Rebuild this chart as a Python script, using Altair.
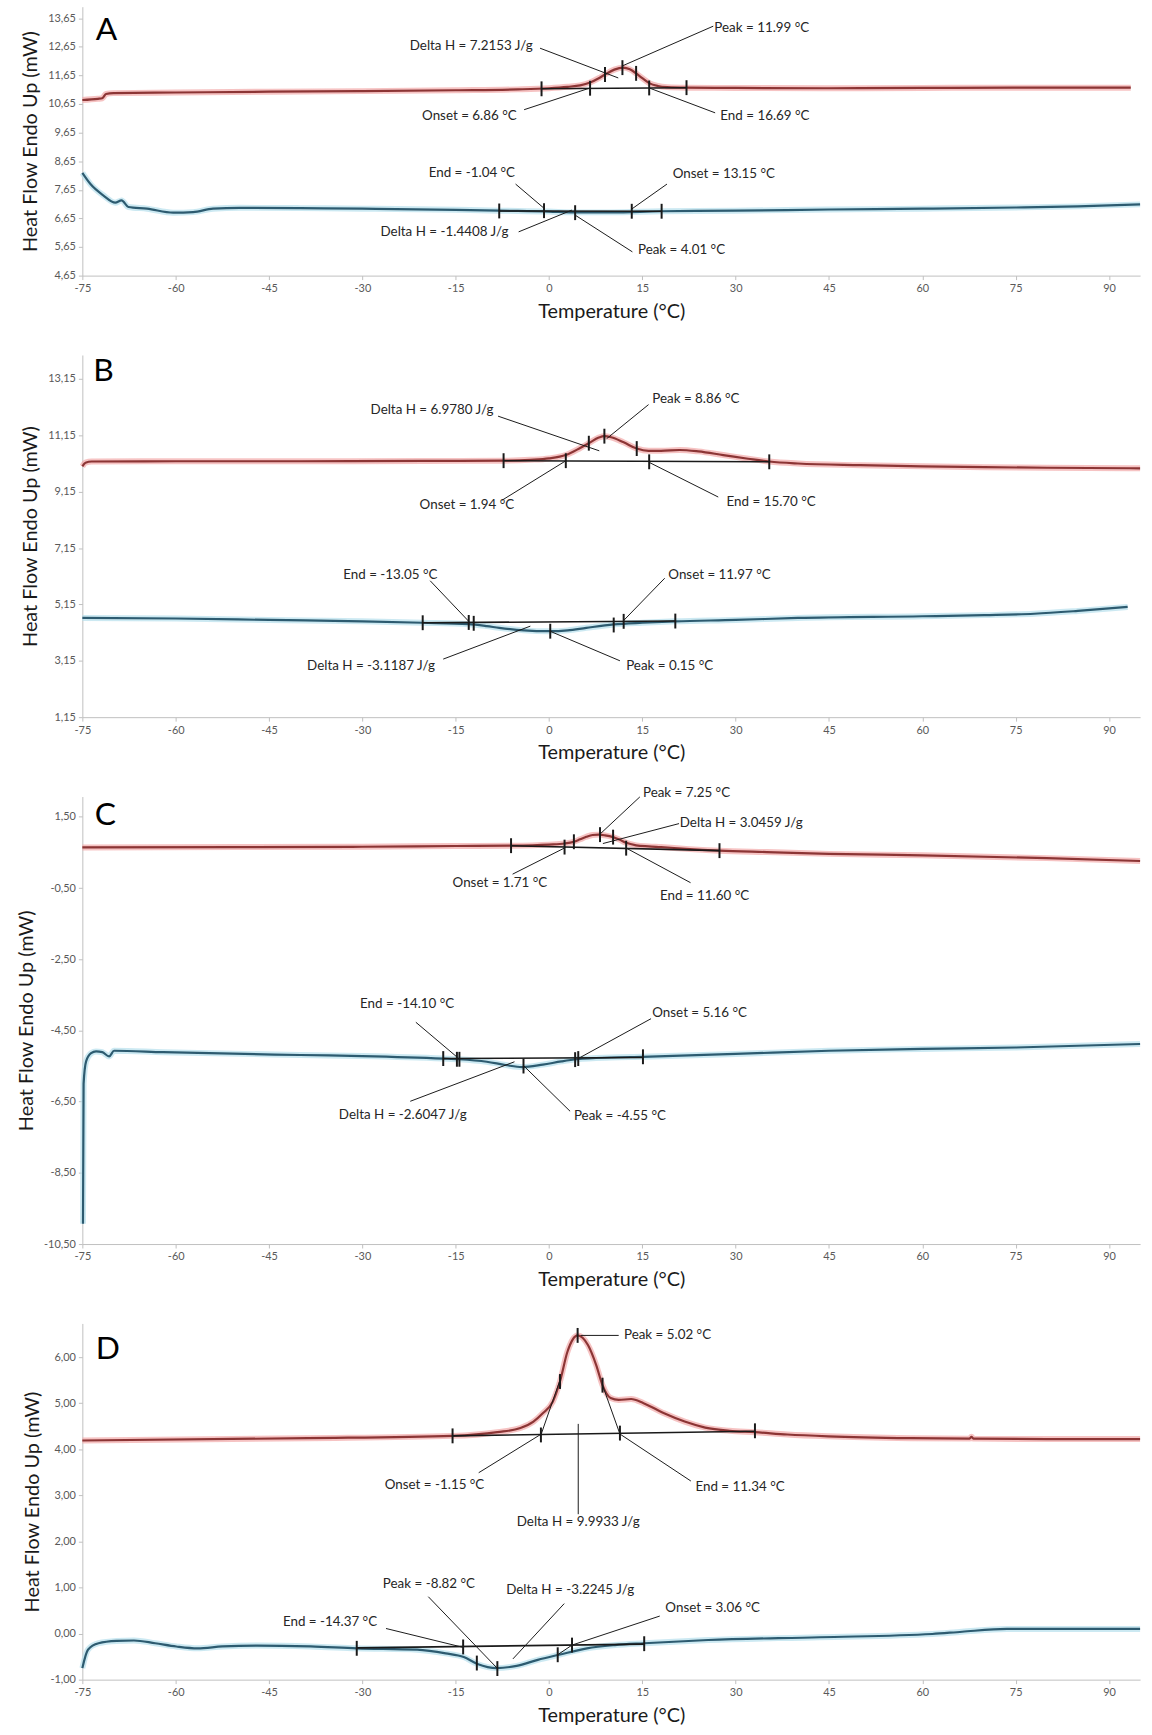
import altair as alt
import pandas as pd

FONT = "Lato"
RED_CORE = "#8c3535"
RED_GLOW = "#f2aaaa"
BLUE_CORE = "#2d5b70"
BLUE_GLOW = "#b7e0ec"
INK = "#1a1a1a"

X_DOMAIN = [-75, 95]
X_TICKS = [-75, -60, -45, -30, -15, 0, 15, 30, 45, 60, 75, 90]
X_TITLE = "Temperature (°C)"
Y_TITLE = "Heat Flow Endo Up (mW)"
Y_LABEL_EXPR = "replace(replace(format(datum.value, '.2f'), '.', ','), '\u2212', '-')"

# ---------------- Panel A ----------------
A_Y_DOMAIN = [4.65, 14.05]
A_Y_TICKS = [4.65, 5.65, 6.65, 7.65, 8.65, 9.65, 10.65, 11.65, 12.65, 13.65]
A_RED_T = [-75, -72.5, -71.8, -71.2, -70, -60, -45, -30, -15, -5, 0, 3, 5, 6.6, 8, 9,
           10.5, 11.9, 13, 14, 15, 16.1, 17.5, 19, 22, 30, 45, 60, 75, 93.5]
A_RED_HF = [10.79, 10.83, 10.85, 11.0, 11.03, 11.05, 11.08, 11.1, 11.13, 11.16, 11.2, 11.25, 11.3,
            11.4, 11.55, 11.68, 11.85, 11.92, 11.86, 11.72, 11.55, 11.38, 11.28, 11.24, 11.22,
            11.21, 11.2, 11.21, 11.22, 11.22]
A_BLUE_T = [-75, -73.7, -71.6, -69.7, -68.7, -67.6, -64.6, -60.4, -57.2, -54, -49.7, -40, -30,
            -15, -8, 0, 4, 10, 18, 30, 45, 60, 75, 85, 95]
A_BLUE_HF = [8.24, 7.85, 7.45, 7.2, 7.28, 7.05, 6.99, 6.85, 6.87, 6.99, 7.02, 7.01, 6.99, 6.95,
             6.92, 6.89, 6.86, 6.86, 6.9, 6.92, 6.96, 6.99, 7.03, 7.07, 7.14]
A_TICKS = [(-1.2, 11.18), (6.6, 11.2), (9.0, 11.68), (11.8, 11.92), (14.0, 11.72), (16.1, 11.21),
           (22.1, 11.22), (-8.0, 6.91), (-0.8, 6.92), (4.2, 6.85), (13.3, 6.9), (18.1, 6.9)]
A_BASES = [(-1.2, 11.18, 22.1, 11.22), (-8.0, 6.91, 18.1, 6.9)]
A_LEADS = [(-1.44, 12.60, 11.13, 11.56), (26.4, 13.37, 11.78, 11.98), (-4.0, 10.45, 6.6, 11.21),
           (26.7, 10.34, 16.1, 11.21), (-5.37, 7.85, -0.72, 6.99), (18.96, 7.85, 13.25, 6.97),
           (-4.88, 6.18, 3.68, 6.94), (13.4, 5.48, 4.16, 6.77)]
A_LABELS = [("Delta H = 7.2153 J/g", -12.5, 12.66), ("Peak = 11.99 °C", 34.2, 13.30),
            ("Onset = 6.86 °C", -12.8, 10.24), ("End = 16.69 °C", 34.7, 10.24),
            ("End = -1.04 °C", -12.4, 8.24), ("Onset = 13.15 °C", 28.1, 8.2),
            ("Delta H = -1.4408 J/g", -16.8, 6.18), ("Peak = 4.01 °C", 21.3, 5.55)]
A_LETTER = ("A", -71.1, 13.23)

# ---------------- Panel B ----------------
B_Y_DOMAIN = [1.15, 14.0]
B_Y_TICKS = [1.15, 3.15, 5.15, 7.15, 9.15, 11.15, 13.15]
B_RED_T = [-75, -74.5, -73.5, -60, -40, -20, -7.3, -3, 0, 2.7, 5, 6.4, 8, 8.9, 10, 12, 14.1, 16,
           18, 21, 24, 28, 32, 35.4, 40, 50, 60, 70, 80, 95]
B_RED_HF = [10.05, 10.18, 10.22, 10.23, 10.23, 10.24, 10.25, 10.28, 10.33, 10.45, 10.7, 10.87,
            11.07, 11.12, 11.08, 10.9, 10.68, 10.6, 10.6, 10.63, 10.58, 10.45, 10.32, 10.22,
            10.15, 10.09, 10.05, 10.02, 10.0, 9.98]
B_BLUE_T = [-75, -60, -45, -30, -20.3, -13, -10, -8, -4, 0, 3, 6, 10.4, 15, 20.3, 30, 40, 60, 70,
            78, 85, 93]
B_BLUE_HF = [4.67, 4.65, 4.6, 4.55, 4.5, 4.45, 4.38, 4.32, 4.23, 4.2, 4.23, 4.32, 4.44, 4.5, 4.55,
             4.6, 4.67, 4.73, 4.77, 4.82, 4.92, 5.06]
B_TICKS = [(-7.3, 10.25), (2.7, 10.25), (6.4, 10.87), (8.9, 11.12), (14.1, 10.68), (16.1, 10.21),
           (35.4, 10.21), (-20.3, 4.5), (-12.9, 4.51), (-12.1, 4.48), (0.2, 4.2), (10.4, 4.42),
           (12.0, 4.55), (20.3, 4.56)]
B_BASES = [(-7.3, 10.25, 35.4, 10.21), (-20.3, 4.5, 20.3, 4.56)]
B_LEADS = [(-8.19, 11.83, 8.08, 10.6), (16.0, 12.24, 9.26, 11.03), (-7.6, 8.84, 2.73, 10.25),
           (27.2, 8.96, 16.1, 10.19), (-19.1, 5.99, -12.9, 4.55), (18.6, 6.08, 12.0, 4.58),
           (-17.0, 3.21, -3.0, 4.38), (11.4, 3.15, 0.16, 4.2)]
B_LABELS = [("Delta H = 6.9780 J/g", -18.8, 12.03), ("Peak = 8.86 °C", 23.6, 12.42),
            ("Onset = 1.94 °C", -13.2, 8.66), ("End = 15.70 °C", 35.7, 8.78),
            ("End = -13.05 °C", -25.5, 6.2), ("Onset = 11.97 °C", 27.4, 6.2),
            ("Delta H = -3.1187 J/g", -28.6, 2.97), ("Peak = 0.15 °C", 19.4, 2.97)]
B_LETTER = ("B", -71.6, 13.42)

# ---------------- Panel C ----------------
C_Y_DOMAIN = [-10.5, 2.07]
C_Y_TICKS = [-10.5, -8.5, -6.5, -4.5, -2.5, -0.5, 1.5]
C_RED_T = [-75, -50, -30, -15, -6, 0, 2.5, 4, 5, 6, 7, 8, 9, 10.3, 11.3, 12.4, 14, 16, 18, 22,
           27.4, 35, 45, 60, 80, 95]
C_RED_HF = [0.64, 0.65, 0.66, 0.68, 0.69, 0.72, 0.75, 0.8, 0.87, 0.94, 0.99, 1.0, 0.98, 0.93,
            0.86, 0.77, 0.7, 0.67, 0.65, 0.6, 0.55, 0.51, 0.46, 0.42, 0.34, 0.26]
C_BLUE_T = [-74.9, -74.8, -74.4, -73.6, -72.8, -71.8, -70.7, -69.9, -62, -40, -30, -17, -14.5,
            -10, -7, -4.3, -1, 2, 4.5, 10, 15, 30, 45, 60, 75, 95]
C_BLUE_HF = [-9.93, -6.0, -5.37, -5.14, -5.09, -5.11, -5.23, -5.07, -5.11, -5.19, -5.22, -5.29,
             -5.31, -5.38, -5.47, -5.53, -5.46, -5.37, -5.31, -5.26, -5.24, -5.16, -5.07, -5.02,
             -4.98, -4.88]
C_TICKS = [(-6.1, 0.69), (2.5, 0.65), (4.0, 0.8), (8.2, 1.0), (10.3, 0.93), (12.4, 0.62),
           (27.4, 0.55), (-17, -5.29), (-14.8, -5.31), (-14.4, -5.31), (-4.1, -5.5),
           (4.2, -5.32), (4.7, -5.29), (15.1, -5.24)]
C_BASES = [(-6.1, 0.69, 27.4, 0.55), (-17, -5.29, 15.1, -5.26)]
C_LEADS = [(14.6, 2.06, 8.35, 1.04), (20.9, 1.31, 8.66, 0.75), (-5.85, -0.11, 2.67, 0.64),
           (22.75, -0.35, 12.43, 0.62), (-21.4, -4.27, -14.7, -5.26), (16.4, -4.17, 4.69, -5.29),
           (-22.3, -6.49, -5.55, -5.38), (3.39, -6.77, -4.09, -5.49)]
C_LABELS = [("Peak = 7.25 °C", 22.1, 2.17), ("Delta H = 3.0459 J/g", 30.9, 1.32),
            ("Onset = 1.71 °C", -7.9, -0.35), ("End = 11.60 °C", 25.0, -0.73),
            ("End = -14.10 °C", -22.8, -3.75), ("Onset = 5.16 °C", 24.2, -4.0),
            ("Delta H = -2.6047 J/g", -23.5, -6.87), ("Peak = -4.55 °C", 11.4, -6.91)]
C_LETTER = ("C", -71.3, 1.54)

# ---------------- Panel D ----------------
D_Y_DOMAIN = [-1.0, 6.73]
D_Y_TICKS = [-1, 0, 1, 2, 3, 4, 5, 6]
D_RED_T = [-75, -38.8, -15.5, -8.3, -4.6, -2.5, -1.0, 0.6, 1.76, 2.95, 3.8, 4.6, 5.4, 6.26, 7.6,
           8.6, 9.9, 11.2, 13.2, 15.2, 18.5, 21.8, 25.1, 29, 33.1, 38.3, 44.9, 58.1, 67.6, 67.9,
           68.2, 80, 95]
D_RED_HF = [4.19, 4.24, 4.29, 4.37, 4.46, 4.6, 4.78, 5.03, 5.47, 6.11, 6.38, 6.47, 6.42, 6.26,
            5.82, 5.39, 5.11, 5.07, 5.09, 5.0, 4.78, 4.6, 4.47, 4.4, 4.37, 4.32, 4.28, 4.24, 4.23,
            4.27, 4.23, 4.22, 4.22]
D_BLUE_T = [-75, -74.1, -72.4, -69.5, -66.7, -63.3, -59.9, -56.5, -52.5, -46.9, -38.3, -30.9,
            -21.2, -16.6, -13.7, -11.5, -8.4, -5.2, -1.8, 1.6, 6.1, 10.6, 15.3, 25.6, 43.5, 61.6,
            66.4, 73.6, 95]
D_BLUE_HF = [-0.75, -0.35, -0.21, -0.16, -0.15, -0.21, -0.28, -0.32, -0.28, -0.26, -0.28, -0.32,
             -0.35, -0.43, -0.51, -0.66, -0.75, -0.70, -0.57, -0.46, -0.32, -0.25, -0.21, -0.14,
             -0.08, -0.01, 0.04, 0.10, 0.10]
D_TICKS = [(-15.5, 4.29), (-1.3, 4.31), (1.77, 5.47), (4.6, 6.47), (8.6, 5.39), (11.4, 4.35),
           (33.1, 4.4), (-30.9, -0.32), (-13.8, -0.29), (-11.6, -0.64), (-8.3, -0.76),
           (1.4, -0.46), (3.7, -0.25), (15.3, -0.22)]
D_BASES = [(-15.5, 4.29, 33.1, 4.39), (-30.9, -0.31, 15.3, -0.23)]
D_LEADS = [(-1.3, 4.31, 1.9, 5.55), (8.6, 5.39, 11.4, 4.33), (1.4, -0.46, 3.7, -0.25),
           (5.1, 6.47, 11.2, 6.47), (-11.3, 3.49, -1.35, 4.32), (22.8, 3.31, 11.4, 4.33),
           (4.7, 4.55, 4.7, 2.59), (-19.4, 0.80, -8.34, -0.75), (-26.2, 0.11, -13.8, -0.30),
           (2.45, 0.65, -5.8, -0.55), (17.8, 0.38, 3.7, -0.25)]
D_LABELS = [("Peak = 5.02 °C", 19.05, 6.47), ("Onset = -1.15 °C", -18.4, 3.22),
            ("End = 11.34 °C", 30.7, 3.17), ("Delta H = 9.9933 J/g", 4.7, 2.41),
            ("Peak = -8.82 °C", -19.3, 1.08), ("End = -14.37 °C", -35.2, 0.26),
            ("Delta H = -3.2245 J/g", 3.4, 0.95), ("Onset = 3.06 °C", 26.3, 0.56)]
D_LETTER = ("D", -70.9, 6.18)

PANEL_WIDTH = 1066


def build_panel(letter, red_t, red_v, blue_t, blue_v, ticks, bases, leads, labels,
                y_domain, y_ticks, height):
    xs = alt.Scale(domain=X_DOMAIN, nice=False, zero=False)
    ys = alt.Scale(domain=y_domain, nice=False, zero=False)
    x_axis = alt.Axis(values=X_TICKS, title=X_TITLE, labelExpr="datum.value + ''",
                      labelFlush=False)
    y_axis = alt.Axis(values=y_ticks, title=Y_TITLE, labelExpr=Y_LABEL_EXPR)
    X = alt.X("T:Q", scale=xs, axis=x_axis)
    Y = alt.Y("HF:Q", scale=ys, axis=y_axis)

    layers = []
    for ts, vs, glow, core in [(red_t, red_v, RED_GLOW, RED_CORE),
                               (blue_t, blue_v, BLUE_GLOW, BLUE_CORE)]:
        base = alt.Chart(pd.DataFrame({"T": ts, "HF": vs})).encode(x=X, y=Y)
        layers.append(base.mark_line(color=glow, strokeWidth=6, opacity=0.7,
                                     interpolate="monotone"))
        layers.append(base.mark_line(color=core, strokeWidth=2.2, interpolate="monotone"))

    base_df = pd.DataFrame(bases, columns=["T", "HF", "T2", "HF2"])
    layers.append(alt.Chart(base_df).mark_rule(color=INK, strokeWidth=1.6).encode(
        x=X, y=Y, x2="T2:Q", y2="HF2:Q"))

    lead_df = pd.DataFrame(leads, columns=["T", "HF", "T2", "HF2"])
    layers.append(alt.Chart(lead_df).mark_rule(color=INK, strokeWidth=1).encode(
        x=X, y=Y, x2="T2:Q", y2="HF2:Q"))

    tick_df = pd.DataFrame(ticks, columns=["T", "HF"])
    layers.append(alt.Chart(tick_df).mark_tick(orient="vertical", size=15, thickness=2,
                                               color=INK, opacity=1).encode(x=X, y=Y))

    label_df = pd.DataFrame(labels, columns=["label", "T", "HF"])
    layers.append(alt.Chart(label_df).mark_text(font=FONT, fontSize=13.5, color="#262626",
                                                align="center", baseline="middle").encode(
        x=X, y=Y, text="label:N"))

    letter_df = pd.DataFrame([letter], columns=["label", "T", "HF"])
    layers.append(alt.Chart(letter_df).mark_text(font=FONT, fontSize=32, color="#000000",
                                                 align="center", baseline="middle").encode(
        x=X, y=Y, text="label:N"))

    return alt.layer(*layers).properties(width=PANEL_WIDTH, height=height)


panel_a = build_panel(A_LETTER, A_RED_T, A_RED_HF, A_BLUE_T, A_BLUE_HF, A_TICKS, A_BASES,
                      A_LEADS, A_LABELS, A_Y_DOMAIN, A_Y_TICKS, 271)
panel_b = build_panel(B_LETTER, B_RED_T, B_RED_HF, B_BLUE_T, B_BLUE_HF, B_TICKS, B_BASES,
                      B_LEADS, B_LABELS, B_Y_DOMAIN, B_Y_TICKS, 365)
panel_c = build_panel(C_LETTER, C_RED_T, C_RED_HF, C_BLUE_T, C_BLUE_HF, C_TICKS, C_BASES,
                      C_LEADS, C_LABELS, C_Y_DOMAIN, C_Y_TICKS, 451)
panel_d = build_panel(D_LETTER, D_RED_T, D_RED_HF, D_BLUE_T, D_BLUE_HF, D_TICKS, D_BASES,
                      D_LEADS, D_LABELS, D_Y_DOMAIN, D_Y_TICKS, 359)

chart = alt.vconcat(panel_a, panel_b, panel_c, panel_d, spacing=80, bounds="flush").properties(
    padding={"left": 16, "top": 0, "right": 0, "bottom": 0},
    background="#ffffff",
).configure_view(strokeWidth=0).configure_axis(
    grid=False,
    domainColor="#bfbfbf",
    tickColor="#bfbfbf",
    tickSize=4,
    labelColor="#595959",
    labelFont=FONT,
    labelFontSize=11,
    labelPadding=3,
    titleFont=FONT,
    titleFontSize=20,
    titleFontWeight="normal",
    titleColor="#1a1a1a",
).configure_axisX(titlePadding=8).configure_axisY(titlePadding=7)

chart.save("out.html", embed_options={"renderer": "svg", "actions": False})
